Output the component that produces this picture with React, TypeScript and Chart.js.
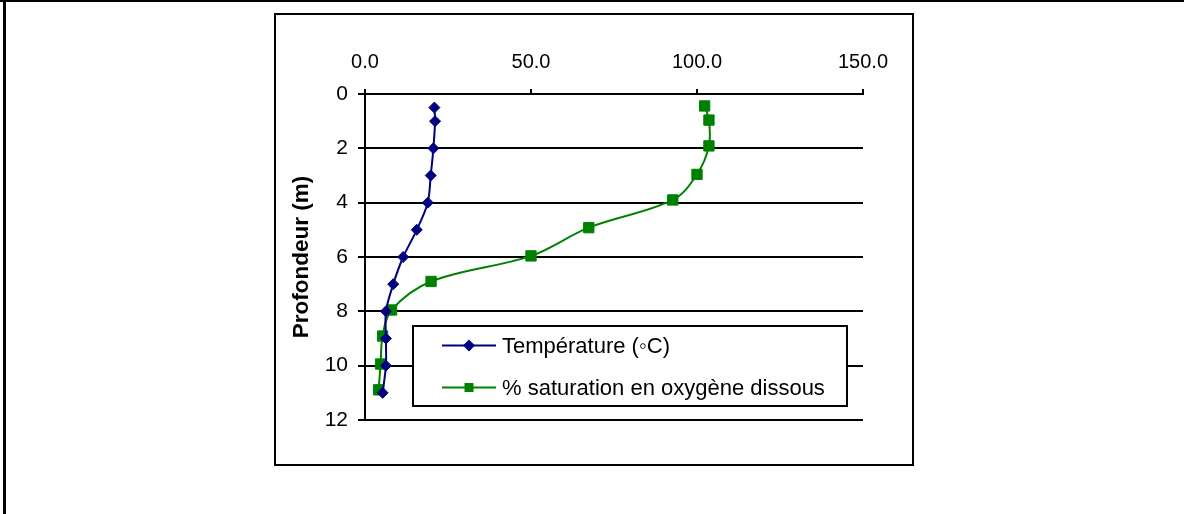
import React, { useEffect, useRef } from "react";
import { Chart, registerables } from "chart.js";

Chart.register(...registerables);

// Depth (m) of each temperature reading and the temperature (°C)
const depthTemperature = [0.5, 1, 2, 3, 4, 5, 6, 7, 8, 9, 10, 11];
const temperature = [20.9, 21.1, 20.6, 19.8, 18.9, 15.6, 11.5, 8.5, 6.3, 6.3, 6.3, 5.3];

// Depth (m) of each oxygen reading and the % saturation in dissolved oxygen
const depthOxygen = [0.44, 0.96, 1.91, 2.96, 3.9, 4.92, 5.96, 6.9, 7.95, 8.91, 9.94, 10.89];
const oxygen = [102.3, 103.6, 103.6, 100.0, 92.7, 67.4, 50.0, 19.9, 8.0, 5.3, 4.7, 4.1];

const seriesLabels = ["Température (◦C)", "% saturation en oxygène dissous"];
const xAxisTicks = [0, 50, 100, 150];
const yAxisTicks = [0, 2, 4, 6, 8, 10, 12];
const yAxisTitle = "Profondeur (m)";

const FONT = '"Liberation Sans", Arial, Helvetica, sans-serif';

const boxLegend = {
  id: "boxLegend",
  afterDatasetsDraw(chart: any) {
    const { ctx, chartArea } = chart;
    const x0 = chartArea.left + 48;
    const y0 = chartArea.top + 232;
    const w = 434;
    const h = 80;
    ctx.save();
    ctx.fillStyle = "#ffffff";
    ctx.fillRect(x0, y0, w, h);
    ctx.strokeStyle = "#000000";
    ctx.lineWidth = 2;
    ctx.strokeRect(x0, y0, w, h);
    chart.data.datasets.forEach((ds: any, i: number) => {
      const cy = y0 + 19.5 + i * 42;
      const mx = x0 + 56;
      ctx.strokeStyle = ds.borderColor;
      ctx.lineWidth = 2;
      ctx.beginPath();
      ctx.moveTo(x0 + 29, cy);
      ctx.lineTo(x0 + 83, cy);
      ctx.stroke();
      ctx.fillStyle = ds.backgroundColor;
      ctx.beginPath();
      if (ds.pointStyle === "rectRot") {
        const r = 6;
        ctx.moveTo(mx - r, cy);
        ctx.lineTo(mx, cy - r);
        ctx.lineTo(mx + r, cy);
        ctx.lineTo(mx, cy + r);
        ctx.closePath();
      } else {
        const s = 4.5;
        ctx.rect(mx - s, cy - s, 2 * s, 2 * s);
      }
      ctx.fill();
      ctx.fillStyle = "#000000";
      ctx.font = `22px ${FONT}`;
      ctx.textBaseline = "middle";
      ctx.textAlign = "left";
      ctx.fillText(ds.label, x0 + 89, cy + 1);
    });
    ctx.restore();
  },
};

export default function App() {
  const canvasRef = useRef<HTMLCanvasElement | null>(null);

  useEffect(() => {
    if (!canvasRef.current) return;
    const chart = new Chart(canvasRef.current, {
      type: "scatter",
      data: {
        datasets: [
          {
            label: seriesLabels[0],
            data: temperature.map((t, i) => ({ x: t, y: depthTemperature[i] })),
            showLine: true,
            borderColor: "#000080",
            backgroundColor: "#000080",
            borderWidth: 2,
            pointStyle: "rectRot",
            pointRadius: 5.5,
            pointBorderWidth: 1,
            tension: 0.3,
          },
          {
            label: seriesLabels[1],
            data: oxygen.map((o, i) => ({ x: o, y: depthOxygen[i] })),
            showLine: true,
            borderColor: "#008000",
            backgroundColor: "#008000",
            borderWidth: 2,
            pointStyle: "rect",
            pointRadius: 7.3,
            pointBorderWidth: 1,
            tension: 0.35,
          },
        ],
      },
      options: {
        responsive: false,
        animation: false,
        devicePixelRatio: 1,
        layout: { padding: { left: 280, top: 20, right: 321, bottom: 94 } },
        plugins: {
          legend: { display: false },
          tooltip: { enabled: false },
        },
        scales: {
          x: {
            type: "linear",
            position: "top",
            min: xAxisTicks[0],
            max: xAxisTicks[xAxisTicks.length - 1],
            afterBuildTicks: (scale: any) => {
              scale.ticks = xAxisTicks.map((v) => ({ value: v }));
            },
            afterFit: (scale: any) => {
              scale.height = 74;
            },
            ticks: {
              padding: 15,
              color: "#000000",
              font: { family: FONT, size: 20 },
              callback: (v: any) => Number(v).toFixed(1),
            },
            grid: {
              drawOnChartArea: false,
              drawTicks: true,
              tickLength: 5,
              color: "#000000",
              lineWidth: 2,
            },
            border: { display: true, color: "#000000", width: 2 },
          },
          y: {
            type: "linear",
            reverse: true,
            min: yAxisTicks[0],
            max: yAxisTicks[yAxisTicks.length - 1],
            afterBuildTicks: (scale: any) => {
              scale.ticks = yAxisTicks.map((v) => ({ value: v }));
            },
            afterFit: (scale: any) => {
              scale.width = 85;
            },
            ticks: {
              padding: 10,
              color: "#000000",
              font: { family: FONT, size: 21 },
              callback: (v: any) => String(v),
            },
            grid: {
              drawOnChartArea: true,
              drawTicks: true,
              tickLength: 7,
              color: "#000000",
              lineWidth: 2,
            },
            border: { display: true, color: "#000000", width: 2 },
            title: {
              display: true,
              text: yAxisTitle,
              color: "#000000",
              font: { family: FONT, size: 22.5, weight: "bold" },
              padding: { top: 8, bottom: 0 },
            },
          },
        },
      },
      plugins: [boxLegend],
    });
    return () => chart.destroy();
  }, []);

  return (
    <div
      style={{
        position: "fixed",
        left: 0,
        top: 0,
        width: 1184,
        height: 514,
        background: "#ffffff",
        overflow: "hidden",
      }}
    >
      <div style={{ position: "absolute", left: 0, top: 0, width: 1184, height: 2, background: "#000" }} />
      <div style={{ position: "absolute", left: 3, top: 0, width: 3, height: 514, background: "#000" }} />
      <div
        style={{
          position: "absolute",
          left: 274,
          top: 13,
          width: 640,
          height: 453,
          border: "2px solid #000",
          boxSizing: "border-box",
        }}
      />
      <canvas
        ref={canvasRef}
        width={1184}
        height={514}
        style={{ position: "absolute", left: 0, top: 0, width: 1184, height: 514 }}
      />
    </div>
  );
}
